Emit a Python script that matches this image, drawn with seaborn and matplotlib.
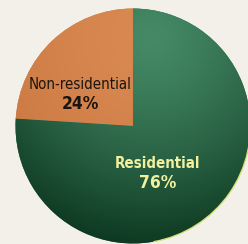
import numpy as np
import matplotlib
matplotlib.use('Agg')
import matplotlib.pyplot as plt
from matplotlib.colors import to_rgb
from matplotlib.patches import Arc
import seaborn as sns

# ── Data ──────────────────────────────────────────────────────────────────────
categories = ['Non-residential', 'Residential']
shares     = [24, 76]
colors     = ['#d0804a', '#236a46']
text_cols  = ['#1a1410', '#f0f0a0']
weights    = ['normal', 'bold']

# light / dark ends of the printed shading for each slice
shade_light = ['#d98a52', '#458a66']
shade_dark  = ['#c8753e', '#0e3a22']

sns.set_theme(style='white')
plt.rcParams['font.family'] = ['DejaVu Sans']

BG = '#f2f0e8'
fig = plt.figure(figsize=(2.48, 2.44), dpi=100, facecolor=BG)
ax = fig.add_axes([0, 0, 1, 1])
ax.set_facecolor(BG)

wedges, _ = ax.pie(shares, colors=colors, startangle=90, counterclock=True,
                   radius=1.0, wedgeprops=dict(linewidth=0))

# gradient fill clipped to each wedge (highlight near the top)
yy, xx = np.mgrid[-1.1:1.1:300j, -1.1:1.1:300j]
d = np.clip(np.hypot(xx - 0.15, yy - 0.75) / 1.75, 0, 1) ** 1.3
for w, lo, hi in zip(wedges, shade_light, shade_dark):
    lo, hi = np.array(to_rgb(lo)), np.array(to_rgb(hi))
    rgb = lo + (hi - lo) * d[..., None]
    img = ax.imshow(rgb, extent=(-1.1, 1.1, -1.1, 1.1), origin='lower',
                    interpolation='bilinear', zorder=2)
    img.set_clip_path(w)

# thin yellowish rim on the lower right
ax.add_patch(Arc((0, 0), 2.0, 2.0, theta1=-80, theta2=10, color='#d8e070',
                 lw=0.9, zorder=3))

# label positions inside each wedge (data coords)
label_pos = [(-0.45, 0.27), (0.21, -0.40)]
for cat, val, (x, y), tc, fw in zip(categories, shares, label_pos, text_cols, weights):
    ax.text(x, y + 0.085, cat, ha='center', va='center', fontsize=10.8,
            color=tc, fontweight=fw, fontstretch='condensed', zorder=4)
    ax.text(x, y - 0.085, f'{val}%', ha='center', va='center', fontsize=12.5,
            color=tc, fontweight='bold', fontstretch='condensed', zorder=4)

ax.set_xlim(-1.132, 0.979)
ax.set_ylim(-1.004, 1.072)
ax.set_aspect('equal')
ax.axis('off')

fig.savefig('out.png', dpi=100, facecolor=fig.get_facecolor())
